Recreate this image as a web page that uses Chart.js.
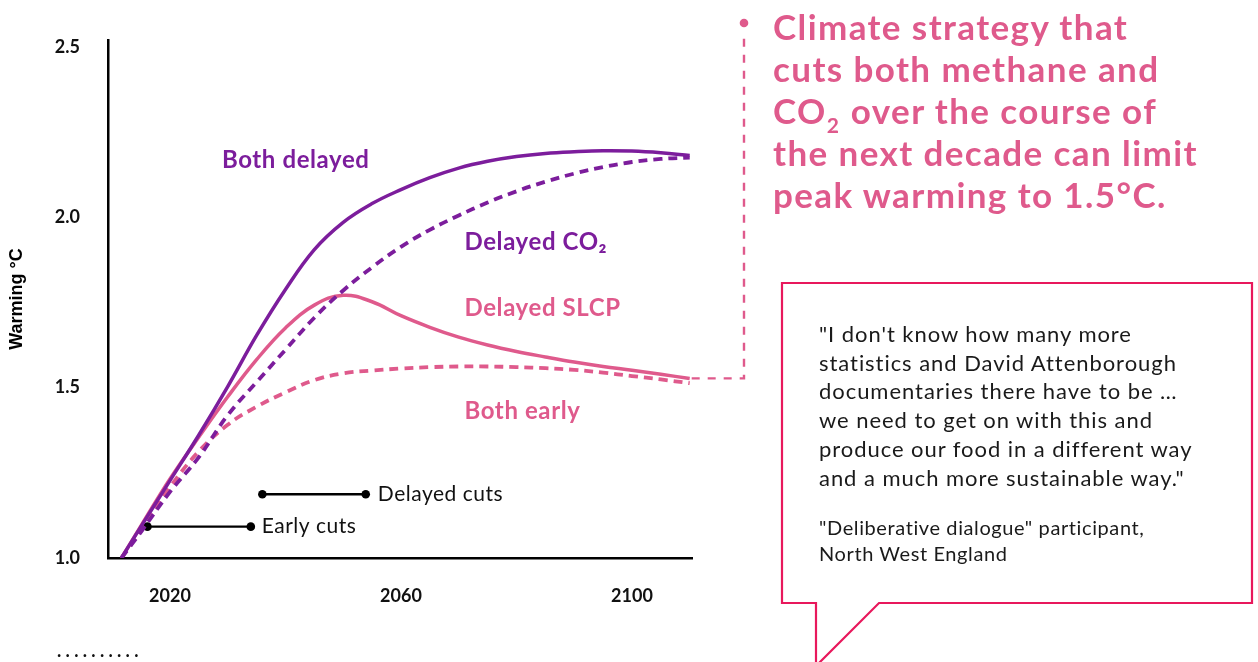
<!DOCTYPE html>
<html>
<head>
<meta charset="utf-8">
<title>Methane and CO2 cuts: peak warming</title>
<script src="https://cdn.jsdelivr.net/npm/chart.js@4.4.1/dist/chart.umd.min.js"></script>
<style>
  html, body { margin: 0; padding: 0; background: #fff; }
  #wrap { position: relative; width: 1258px; height: 662px; overflow: hidden; font-family: Lato, "Noto Sans", sans-serif; }
  #chart-box { position: absolute; left: 0; top: 0; width: 1258px; height: 662px; }
  .headline { position: absolute; left: 773px; top: 5px; font: 700 35px/42px Lato, sans-serif; letter-spacing: 1.4px; color: #df5a8c; white-space: nowrap; }
  .headline sub { font-size: 21px; line-height: 0; vertical-align: baseline; position: relative; top: 9px; letter-spacing: 0; margin-right: 2px; }
  .quote { position: absolute; left: 819px; top: 320px; font: 400 22px/28.7px Lato, sans-serif; letter-spacing: 0.95px; color: #1a1a1a; white-space: nowrap; }
  .who { position: absolute; left: 819px; top: 515px; font: 400 20px/25.7px Lato, sans-serif; letter-spacing: 0.6px; color: #1a1a1a; white-space: nowrap; }
  .dots { position: absolute; left: 57px; top: 640px; font: 700 18px/20px Lato, sans-serif; letter-spacing: 4.3px; color: #111; }
  svg.bubble { position: absolute; left: 0; top: 0; }
</style>
</head>
<body>
<div id="wrap">
  <div id="chart-box"><canvas id="warming"></canvas></div>

  <div class="headline">Climate strategy that<br>cuts both methane and<br>CO<sub>2</sub> over the course of<br>the next decade can limit<br>peak warming to 1.5°C.</div>

  <svg class="bubble" width="1258" height="662">
    <path d="M782,283 H1252 V603 H879 L816,666 V603 H782 Z" fill="none" stroke="#e8185c" stroke-width="2.2"/>
  </svg>

  <div class="quote">"I don't know how many more<br>statistics and David Attenborough<br>documentaries there have to be …<br>we need to get on with this and<br>produce our food in a different way<br>and a much more sustainable way."</div>
  <div class="who">"Deliberative dialogue" participant,<br>North West England</div>

  <div class="dots">..........</div>
</div>

<script>
// Years at which each warming pathway is given
const years = [2011.6, 2015, 2020, 2025, 2030, 2035, 2040, 2045, 2050, 2055, 2060, 2065, 2070, 2075,
               2080, 2085, 2090, 2095, 2100, 2105, 2110];

// Warming above pre-industrial (°C) for each pathway
const bothDelayed = [1.000, 1.093, 1.227, 1.361, 1.503, 1.653, 1.788, 1.905, 1.985, 2.040, 2.081, 2.116, 2.144, 2.164,
                     2.178, 2.187, 2.192, 2.195, 2.194, 2.189, 2.181];
const delayedCO2  = [1.000, 1.077, 1.194, 1.296, 1.419, 1.516, 1.611, 1.705, 1.785, 1.853, 1.913, 1.963, 2.005, 2.043,
                     2.076, 2.104, 2.128, 2.147, 2.162, 2.171, 2.175];
const delayedSlcp = [1.000, 1.095, 1.232, 1.355, 1.473, 1.582, 1.675, 1.742, 1.771, 1.752, 1.711, 1.677, 1.648, 1.625,
                     1.606, 1.590, 1.575, 1.562, 1.551, 1.539, 1.527];
const bothEarly   = [1.000, 1.083, 1.208, 1.313, 1.391, 1.444, 1.486, 1.522, 1.542, 1.550, 1.556, 1.560, 1.562, 1.562,
                     1.560, 1.557, 1.552, 1.544, 1.534, 1.524, 1.513];

// Windows in which cuts are made
const earlyCutsYears   = [2016.1, 2034.0];
const earlyCutsLevel   = 1.092;
const delayedCutsYears = [2036.0, 2053.9];
const delayedCutsLevel = 1.187;

// Axis ticks
const yearTicks    = [2020, 2060, 2100];
const warmingTicks = [1.0, 1.5, 2.0, 2.5];

const PURPLE = '#7c1d9c';
const PINK = '#df5a8c';

function toPoints(xs, ys) { return xs.map((x, i) => ({ x: x, y: ys[i] })); }

// Series names and the connector to the headline, drawn on top of the lines
const chartNotes = {
  id: 'chartNotes',
  afterDatasetsDraw(chart, args, opts) {
    const { ctx } = chart;
    const xs = chart.scales.x, ys = chart.scales.y;
    ctx.save();
    opts.labels.forEach(l => {
      ctx.font = l.font;
      ctx.letterSpacing = l.spacing || '0px';
      ctx.fillStyle = l.color;
      ctx.textAlign = 'left';
      ctx.textBaseline = 'middle';
      ctx.fillText(l.text, xs.getPixelForValue(l.x), ys.getPixelForValue(l.y));
    });
    ctx.letterSpacing = '0px';
    // dashed connector from the end of the delayed-SLCP pathway up to the headline
    const ds = chart.data.datasets[opts.connectorFrom].data;
    const end = ds[ds.length - 1];
    const px = xs.getPixelForValue(end.x), py = ys.getPixelForValue(end.y);
    ctx.strokeStyle = PINK;
    ctx.lineWidth = 2.4;
    ctx.setLineDash([8, 8]);
    ctx.beginPath();
    ctx.moveTo(px + 2, py);
    ctx.lineTo(opts.connectorX, py);
    ctx.lineTo(opts.connectorX, opts.connectorTop + 8);
    ctx.stroke();
    ctx.setLineDash([]);
    ctx.fillStyle = PINK;
    ctx.beginPath();
    ctx.arc(opts.connectorX, opts.connectorTop, 4.3, 0, Math.PI * 2);
    ctx.fill();
    ctx.restore();
  }
};

const lineStyle = { pointRadius: 0, pointHoverRadius: 0, tension: 0.4, fill: false };

new Chart(document.getElementById('warming'), {
  type: 'line',
  data: {
    datasets: [
      Object.assign({ label: 'Both delayed', data: toPoints(years, bothDelayed), borderColor: PURPLE, borderWidth: 3.5 }, lineStyle),
      Object.assign({ label: 'Delayed CO₂', data: toPoints(years, delayedCO2), borderColor: PURPLE, borderWidth: 3.8, borderDash: [9, 6] }, lineStyle),
      Object.assign({ label: 'Delayed SLCP', data: toPoints(years, delayedSlcp), borderColor: PINK, borderWidth: 3.5 }, lineStyle),
      Object.assign({ label: 'Both early', data: toPoints(years, bothEarly), borderColor: PINK, borderWidth: 3.8, borderDash: [9, 6] }, lineStyle),
      { label: 'Early cuts', data: earlyCutsYears.map(x => ({ x: x, y: earlyCutsLevel })), borderColor: '#000', borderWidth: 2.4,
        pointRadius: 4.3, pointBackgroundColor: '#000', pointBorderWidth: 0, tension: 0 },
      { label: 'Delayed cuts', data: delayedCutsYears.map(x => ({ x: x, y: delayedCutsLevel })), borderColor: '#000', borderWidth: 2.4,
        pointRadius: 4.3, pointBackgroundColor: '#000', pointBorderWidth: 0, tension: 0 }
    ]
  },
  options: {
    responsive: true,
    maintainAspectRatio: false,
    animation: false,
    events: [],
    layout: { padding: { left: 0, top: 40, right: 566, bottom: 0 } },
    plugins: {
      legend: { display: false },
      tooltip: { enabled: false },
      chartNotes: {
        connectorFrom: 2,
        connectorX: 744,
        connectorTop: 23,
        labels: [
          { text: 'Both delayed', x: 2029.0, y: 2.166, color: PURPLE, font: 'bold 24px Lato', spacing: '0.6px' },
          { text: 'Delayed CO₂',  x: 2071.0, y: 1.926, color: PURPLE, font: 'bold 24px Lato', spacing: '0.6px' },
          { text: 'Delayed SLCP', x: 2071.0, y: 1.733, color: PINK,   font: 'bold 24px Lato', spacing: '0.6px' },
          { text: 'Both early',   x: 2071.0, y: 1.431, color: PINK,   font: 'bold 24px Lato', spacing: '0.6px' },
          { text: 'Early cuts',   x: 2035.9, y: earlyCutsLevel,   color: '#111', font: '21px Lato', spacing: '0.5px' },
          { text: 'Delayed cuts', x: 2056.0, y: delayedCutsLevel, color: '#111', font: '21px Lato', spacing: '0.5px' }
        ]
      }
    },
    scales: {
      x: {
        type: 'linear',
        min: 2009.27,
        max: 2110.4,
        afterBuildTicks: s => { s.ticks = yearTicks.map(v => ({ value: v })); },
        afterFit: s => { s.height = 104; },
        grid: { display: false, drawTicks: false },
        border: { display: true, color: '#000', width: 2.5 },
        ticks: { padding: 27, maxRotation: 0, autoSkip: false, color: '#111',
                 font: { family: 'Lato', weight: 'bold', size: 18 }, callback: v => String(v) }
      },
      y: {
        type: 'linear',
        min: 1.0,
        max: 2.52,
        afterBuildTicks: s => { s.ticks = warmingTicks.map(v => ({ value: v })); },
        afterFit: s => { s.width = 108; },
        grid: { display: false, drawTicks: false },
        border: { display: true, color: '#000', width: 2.5 },
        ticks: { padding: 28, color: '#111',
                 font: { family: 'Lato', weight: 'bold', size: 18 }, callback: v => Number(v).toFixed(1) },
        title: { display: true, text: 'Warming °C', color: '#000',
                 font: { family: 'Liberation Sans', weight: 'bold', size: 18 }, padding: { top: 6, bottom: 0 } }
      }
    }
  },
  plugins: [chartNotes]
});
</script>
</body>
</html>
